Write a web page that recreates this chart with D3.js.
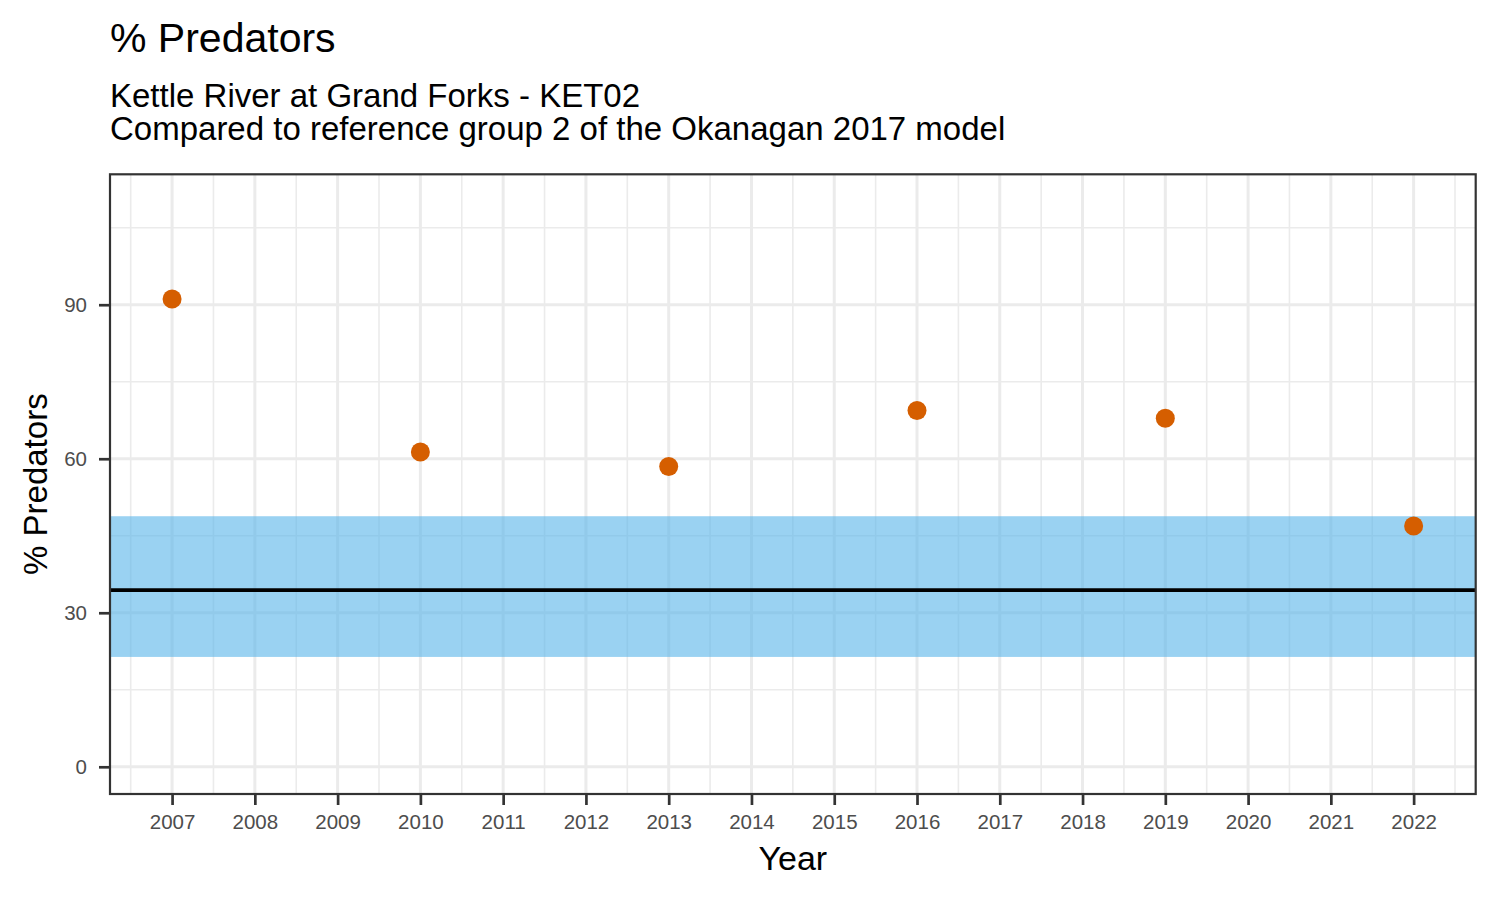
<!DOCTYPE html>
<html>
<head>
<meta charset="utf-8">
<script src="https://cdn.jsdelivr.net/npm/d3@7"></script>
<style>
  body { margin: 0; background: #fff; }
  text { font-family: Arial, "Liberation Sans", sans-serif; }
</style>
</head>
<body>
<div id="chart"></div>
<script>
// observed values
const years = [2007, 2010, 2013, 2016, 2019, 2022];
const predators = [91.1, 61.3, 58.5, 69.4, 67.9, 46.9];

// reference group 2 band and median
const refLow = 21.4;
const refHigh = 48.8;
const refMedian = 34.4;

const xTicks = d3.range(2007, 2023);
const xMinor = d3.range(2006.5, 2023, 1);
const yTicks = [0, 30, 60, 90];
const yMinor = [15, 45, 75, 105];

const width = 1500, height = 900;
const margin = { top: 174.3, right: 24.3, bottom: 106, left: 110 };

const svg = d3.select("#chart")
    .append("svg")
    .attr("width", width)
    .attr("height", height);

const x = d3.scaleLinear()
    .domain([2006.25, 2022.75])
    .range([margin.left, width - margin.right]);

const y = d3.scaleLinear()
    .domain([-5.3, 115.4])
    .range([height - margin.bottom, margin.top]);

const panel = svg.append("g");

panel.append("rect")
    .attr("x", x.range()[0])
    .attr("y", y.range()[1])
    .attr("width", x.range()[1] - x.range()[0])
    .attr("height", y.range()[0] - y.range()[1])
    .attr("fill", "#fff");

// minor grid
panel.append("g").selectAll("line")
    .data(xMinor)
    .join("line")
    .attr("x1", d => x(d)).attr("x2", d => x(d))
    .attr("y1", y.range()[0]).attr("y2", y.range()[1])
    .attr("stroke", "#EBEBEB").attr("stroke-width", 1.6);

panel.append("g").selectAll("line")
    .data(yMinor)
    .join("line")
    .attr("y1", d => y(d)).attr("y2", d => y(d))
    .attr("x1", x.range()[0]).attr("x2", x.range()[1])
    .attr("stroke", "#EBEBEB").attr("stroke-width", 1.6);

// major grid
panel.append("g").selectAll("line")
    .data(xTicks)
    .join("line")
    .attr("x1", d => x(d)).attr("x2", d => x(d))
    .attr("y1", y.range()[0]).attr("y2", y.range()[1])
    .attr("stroke", "#EBEBEB").attr("stroke-width", 3);

panel.append("g").selectAll("line")
    .data(yTicks)
    .join("line")
    .attr("y1", d => y(d)).attr("y2", d => y(d))
    .attr("x1", x.range()[0]).attr("x2", x.range()[1])
    .attr("stroke", "#EBEBEB").attr("stroke-width", 3);

// reference band
panel.append("rect")
    .attr("x", x.range()[0])
    .attr("width", x.range()[1] - x.range()[0])
    .attr("y", y(refHigh))
    .attr("height", y(refLow) - y(refHigh))
    .attr("fill", "#56B4E9")
    .attr("fill-opacity", 0.6);

panel.append("line")
    .attr("x1", x.range()[0]).attr("x2", x.range()[1])
    .attr("y1", y(refMedian)).attr("y2", y(refMedian))
    .attr("stroke", "#000").attr("stroke-width", 3.8);

// points
panel.append("g").selectAll("circle")
    .data(years.map((yr, i) => ({ year: yr, value: predators[i] })))
    .join("circle")
    .attr("cx", d => x(d.year))
    .attr("cy", d => y(d.value))
    .attr("r", 9.5)
    .attr("fill", "#D55E00");

// panel border
panel.append("rect")
    .attr("x", x.range()[0])
    .attr("y", y.range()[1])
    .attr("width", x.range()[1] - x.range()[0])
    .attr("height", y.range()[0] - y.range()[1])
    .attr("fill", "none")
    .attr("stroke", "#333333")
    .attr("stroke-width", 2.2);

// axes
const xAxis = svg.append("g")
    .attr("transform", `translate(0,${y.range()[0]})`)
    .call(d3.axisBottom(x).tickValues(xTicks).tickFormat(d3.format("d")).tickSize(11).tickPadding(9));

const yAxis = svg.append("g")
    .attr("transform", `translate(${x.range()[0]},0)`)
    .call(d3.axisLeft(y).tickValues(yTicks).tickSize(11).tickPadding(12));

[xAxis, yAxis].forEach(a => {
    a.select(".domain").remove();
    a.selectAll(".tick line").attr("stroke", "#333333").attr("stroke-width", 2.7);
    a.selectAll(".tick text")
        .attr("fill", "#4D4D4D")
        .style("font-size", "20.5px")
        .style("font-family", "Arial, 'Liberation Sans', sans-serif");
});

// titles
svg.append("text")
    .attr("x", 110).attr("y", 52)
    .style("font-size", "41px")
    .attr("fill", "#000")
    .text("% Predators");

svg.append("text")
    .attr("x", 110).attr("y", 106.7)
    .style("font-size", "33px")
    .attr("fill", "#000")
    .text("Kettle River at Grand Forks - KET02");

svg.append("text")
    .attr("x", 110).attr("y", 140)
    .style("font-size", "33px")
    .attr("fill", "#000")
    .text("Compared to reference group 2 of the Okanagan 2017 model");

svg.append("text")
    .attr("x", (x.range()[0] + x.range()[1]) / 2)
    .attr("y", 870)
    .attr("text-anchor", "middle")
    .style("font-size", "34px")
    .attr("fill", "#000")
    .text("Year");

svg.append("text")
    .attr("transform", `translate(47,${(y.range()[0] + y.range()[1]) / 2}) rotate(-90)`)
    .attr("text-anchor", "middle")
    .style("font-size", "33px")
    .attr("fill", "#000")
    .text("% Predators");
</script>
</body>
</html>
